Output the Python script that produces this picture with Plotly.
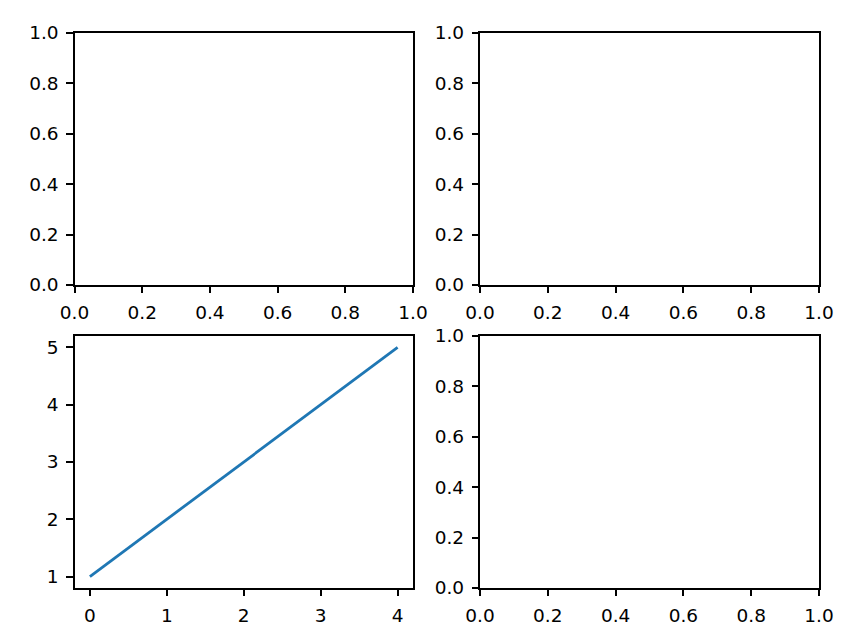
import plotly.graph_objects as go

line_x = [0, 1, 2, 3, 4]
line_y = [1, 2, 3, 4, 5]
unit_ticks = [0.0, 0.2, 0.4, 0.6, 0.8, 1.0]
int_x_ticks = [0, 1, 2, 3, 4]
int_y_ticks = [1, 2, 3, 4, 5]

W, H = 856, 641
xd = [[74.5 / W, 413 / W], [480 / W, 819 / W]]
yd_top = [1 - 285 / H, 1 - 33 / H]
yd_bot = [1 - 588 / H, 1 - 336 / H]

fig = go.Figure()
for xa, ya in [("x", "y"), ("x2", "y2"), ("x4", "y4")]:
    fig.add_trace(go.Scatter(x=[None], y=[None], mode="lines",
                             xaxis=xa, yaxis=ya, showlegend=False,
                             hoverinfo="skip"))
fig.add_trace(go.Scatter(x=line_x, y=line_y, mode="lines",
                         line=dict(color="#1f77b4", width=2.8),
                         xaxis="x3", yaxis="y3", showlegend=False))

font = dict(family="DejaVu Sans", size=18.5, color="black")

def ax(domain, anchor, rng, ticks, fmt):
    return dict(domain=domain, anchor=anchor, range=rng, tickvals=ticks,
                tickformat=fmt, showgrid=False, zeroline=False,
                showline=True, mirror=True, linecolor="black", linewidth=1.5,
                ticks="outside", ticklen=6.5, tickwidth=1.5, tickcolor="black",
                tickfont=font, ticklabelstandoff=4, fixedrange=True,
                automargin=False)

layout = dict(
    width=W, height=H, margin=dict(l=0, r=0, t=0, b=0, autoexpand=False),
    paper_bgcolor="white", plot_bgcolor="white", showlegend=False,
    xaxis=ax(xd[0], "y", [0, 1], unit_ticks, ".1f"),
    yaxis=ax(yd_top, "x", [0, 1], unit_ticks, ".1f"),
    xaxis2=ax(xd[1], "y2", [0, 1], unit_ticks, ".1f"),
    yaxis2=ax(yd_top, "x2", [0, 1], unit_ticks, ".1f"),
    xaxis3=ax(xd[0], "y3", [-0.2, 4.2], int_x_ticks, "d"),
    yaxis3=ax(yd_bot, "x3", [0.8, 5.2], int_y_ticks, "d"),
    xaxis4=ax(xd[1], "y4", [0, 1], unit_ticks, ".1f"),
    yaxis4=ax(yd_bot, "x4", [0, 1], unit_ticks, ".1f"),
)
fig.update_layout(**layout)
fig.write_html("out.html", config={"displayModeBar": False},
               post_script="document.body.style.margin='0';document.body.style.padding='0';")
